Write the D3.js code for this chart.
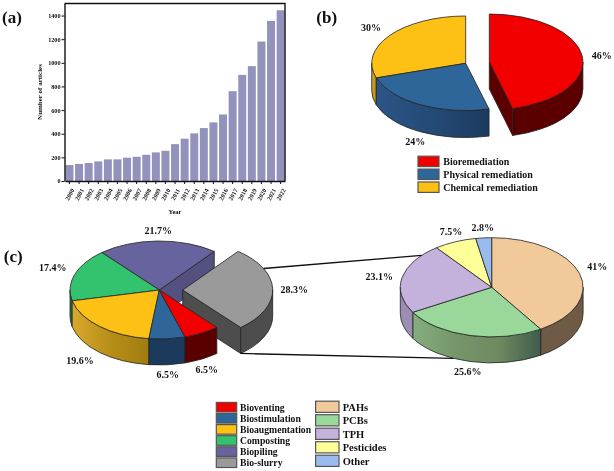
<!DOCTYPE html>
<html><head><meta charset="utf-8">
<script src="https://cdn.jsdelivr.net/npm/d3@7"></script>
<style>html,body{margin:0;padding:0;background:#fff}svg{display:block;filter:blur(0.35px)}text{font-family:"Liberation Serif",serif;font-weight:bold;fill:#111}</style>
</head><body><svg id="c" width="614" height="471"></svg>
<script>
const years=["2000","2001","2002","2003","2004","2005","2006","2007","2008","2009","2010","2011","2012","2013","2014","2015","2016","2017","2018","2019","2020","2021","2022"];
const articles=[135,144,152,166,183,183,197,205,222,242,256,312,358,403,448,496,563,760,898,972,1180,1355,1445];
const yTicks=[0,200,400,600,800,1000,1200,1400];

const remediationNames=["Bioremediation","Physical remediation","Chemical remediation"];
const remediationValues=[46,24,30];
const remediationLabels=["46%","24%","30%"];
const remediationTop=["#f20000","#2f6699","#fdc014"];

const bioNames=["Bio-slurry","Bioventing","Biostimulation","Bioaugmentation","Composting","Biopiling"];
const bioValues=[28.3,6.5,6.5,19.6,17.4,21.7];
const bioLabels=["28.3%","6.5%","6.5%","19.6%","17.4%","21.7%"];
const bioTop=["#9a9a9a","#f20000","#2f6699","#fdc014","#33c26e","#67639f"];
const bioLegendOrder=["Bioventing","Biostimulation","Bioaugmentation","Composting","Biopiling","Bio-slurry"];

const slurryNames=["PAHs","PCBs","TPH","Pesticides","Other"];
const slurryValues=[41,25.6,23.1,7.5,2.8];
const slurryLabels=["41%","25.6%","23.1%","7.5%","2.8%"];
const slurryTop=["#f2c99b","#99d89a","#c4b2dc","#ffff99","#99bbee"];

const svg=d3.select("#c");
const defs=svg.append("defs");
function grad(id,stops){
  const g=defs.append("linearGradient").attr("id",id);
  stops.forEach((c,i)=>g.append("stop").attr("offset",i/(stops.length-1)).attr("stop-color",c));
  return `url(#${id})`;
}
const remWall=[ "#5a0000", grad("w1",["#2b5586","#244a76","#1c3a5e"]), grad("w2",["#d0a020","#c09018"]) ];
const bioWall=[ "#4d4d4d", "#5a0000", "#1b3a5c", grad("w3",["#d9a92c","#b78e18","#a07c10"]), "#1f7a46", "#4f4c80" ];
const sluWall=[ "#6f5b45", grad("w4",["#86ad7e","#75966a","#6f8a60","#3f5c4c"]), "#9b8db3", "#b0b070", "#6a80a8" ];

/* Panel a */
const a=svg.append("g");
const frame={l:64.5,r:285,t:3.5,b:181};
const x=d3.scaleBand().domain(years).range([frame.l+.6,frame.r]).paddingInner(0.17).paddingOuter(0.04);
const y=d3.scaleLinear().domain([0,1502]).range([frame.b,frame.t]);
a.selectAll("rect.bar").data(articles).join("rect").attr("class","bar")
  .attr("x",(d,i)=>x(years[i])).attr("width",x.bandwidth())
  .attr("y",d=>y(d)).attr("height",d=>y(0)-y(d)).attr("fill","#9292bd");
const ax=a.append("g").attr("transform",`translate(0,${frame.b})`).call(d3.axisBottom(x).tickSize(3).tickSizeOuter(0));
ax.selectAll("text").attr("x",0).attr("y",0).attr("dy",".33em").attr("text-anchor","middle").attr("transform","translate(0.5,13.5) rotate(-62)").style("font-size","6.2px");
const ay=a.append("g").attr("transform",`translate(${frame.l},0)`).call(d3.axisLeft(y).tickValues(yTicks).tickSize(3).tickSizeOuter(0).tickFormat(d3.format("d")));
ay.selectAll("text").attr("x",-4).style("font-size","6.2px");
[ax,ay].forEach(s=>{s.selectAll("path,line").attr("stroke","#111").attr("stroke-width",1);s.select("path").attr("stroke-width",1.4)});
a.append("path").attr("d",`M${frame.l},${frame.t}H${frame.r}V${frame.b}`).attr("fill","none").attr("stroke","#111").attr("stroke-width",1.4);
a.append("text").attr("x",175).attr("y",214).attr("text-anchor","middle").style("font-size","6.5px").text("Year");
a.append("text").attr("transform","translate(42,92) rotate(-90)").attr("text-anchor","middle").style("font-size","7px").text("Number of articles");

/* 3D pies */
const pieGen=startDeg=>d3.pie().sort(null).startAngle(startDeg*Math.PI/180).endAngle((startDeg+360)*Math.PI/180);
const arc100=d3.arc().innerRadius(0).outerRadius(100);
const STROKE="#222";
const pt=(g,ang)=>[g.cx+g.rx*Math.sin(ang),g.cy-g.ry*Math.cos(ang)];
function wallPath(g,a0,a1){
  const p=pt(g,a0),q=pt(g,a1),large=(a1-a0)>Math.PI?1:0;
  return `M${p}A${g.rx},${g.ry} 0 ${large} 1 ${q}L${q[0]},${q[1]+g.depth}A${g.rx},${g.ry} 0 ${large} 0 ${p[0]},${p[1]+g.depth}Z`;
}
function visible(s){ // the part of a slice's rim facing the viewer
  const h=Math.PI/2, t=Math.PI*1.5, out=[];
  for(const k of [0,2*Math.PI]){
    const a0=Math.max(s.startAngle-k,h),a1=Math.min(s.endAngle-k,t);
    if(a1>a0) out.push([a0,a1]);
  }
  return out;
}
function face(g,ang,fill,parent){
  const p=pt(g,ang);
  parent.append("path").attr("d",`M${g.cx},${g.cy}L${p}L${p[0]},${p[1]+g.depth}L${g.cx},${g.cy+g.depth}Z`)
    .attr("fill",fill).attr("stroke",STROKE).attr("stroke-width",.8).attr("stroke-linejoin","round");
}
function slice(g,s,wall,parent){
  visible(s).forEach(v=>parent.append("path").attr("d",wallPath(g,v[0],v[1])).attr("fill",wall).attr("stroke",STROKE).attr("stroke-width",.8).attr("stroke-linejoin","round"));
}
function topSlice(g,s,top,parent){
  parent.append("path").attr("d",arc100(s)).attr("transform",`translate(${g.cx},${g.cy}) scale(${g.rx/100},${g.ry/100})`)
   .attr("fill",top).attr("stroke",STROKE).attr("stroke-width",.8).attr("stroke-linejoin","round").attr("vector-effect","non-scaling-stroke");
}
function label(t,cx,cy,size=10){svg.append("text").attr("x",cx).attr("y",cy+size*.33).attr("text-anchor","middle").style("font-size",size+"px").text(t)}

/* Panel b */
const bG=svg.append("g");
const bRest={cx:465.7,cy:63.3,rx:94,ry:47.3,depth:27};
const bEx={cx:489.3,cy:62,rx:93.6,ry:48,depth:27};
const bArcs=pieGen(0)(remediationValues);
slice(bRest,bArcs[2],remWall[2],bG);
slice(bRest,bArcs[1],remWall[1],bG);
topSlice(bRest,bArcs[2],remediationTop[2],bG);
topSlice(bRest,bArcs[1],remediationTop[1],bG);
face(bEx,bArcs[0].endAngle,"#5a0000",bG);
slice(bEx,bArcs[0],remWall[0],bG);
topSlice(bEx,bArcs[0],remediationTop[0],bG);
label(remediationLabels[0],601.7,55.7);label(remediationLabels[1],415.3,141.7);label(remediationLabels[2],371,27.3);

/* legend helper */
function legend(names,colors,sx,sw,sh,y0,step,tx,size,baseOff){
  const g=svg.append("g");
  names.forEach((n,i)=>{
    g.append("rect").attr("x",sx).attr("y",y0+i*step).attr("width",sw).attr("height",sh).attr("fill",colors[i]).attr("stroke","#555").attr("stroke-width",1.2);
    g.append("text").attr("x",tx).attr("y",y0+i*step+baseOff).style("font-size",size+"px").text(n);
  });
}
legend(remediationNames,remediationTop,418,21,10.4,156.2,12.9,443.3,10,8.6);

/* Panel c: left. The exploded slice sits behind the rest of the pie. */
const cG=svg.append("g");
const cRest={cx:159.3,cy:290,rx:89.3,ry:49,depth:26};
const cEx={cx:182.7,cy:290,rx:90,ry:49,depth:26};
const cArcs=pieGen(38)(bioValues);
face(cRest,cArcs[0].startAngle,"#54507f",cG);
face(cEx,cArcs[0].endAngle,"#4d4d4d",cG);
slice(cEx,cArcs[0],bioWall[0],cG);
topSlice(cEx,cArcs[0],bioTop[0],cG);
[5,4,3,2,1].forEach(i=>slice(cRest,cArcs[i],bioWall[i],cG));
[5,4,3,2,1].forEach(i=>topSlice(cRest,cArcs[i],bioTop[i],cG));
[[294.3,289.3],[206.7,369.3],[167.7,375],[80,361],[52.7,267.3],[158.3,230.7]].forEach((p,i)=>label(bioLabels[i],p[0],p[1]));

/* Panel c: right */
const dG=svg.append("g");
const dP={cx:491.7,cy:287.3,rx:91.4,ry:49.6,depth:26};
const dArcs=pieGen(0)(slurryValues);
dArcs.forEach((s,i)=>slice(dP,s,sluWall[i],dG));
dArcs.forEach((s,i)=>topSlice(dP,s,slurryTop[i],dG));
[[597.3,266.7],[467.7,371.7],[379.3,276.7],[451,231.7],[482.7,227.3]].forEach((p,i)=>label(slurryLabels[i],p[0],p[1]));

/* connectors from the exploded slice to the second pie */
const rad=d=>d*Math.PI/180;
const l0=pt(cEx,rad(64)),l1=pt(dP,rad(310));
const m0=pt(cEx,cArcs[0].endAngle),m1=pt(dP,rad(204.8));
const conn=svg.append("g").attr("stroke","#111").attr("stroke-width",1.3);
conn.append("line").attr("x1",l0[0]).attr("y1",l0[1]).attr("x2",l1[0]).attr("y2",l1[1]);
conn.append("line").attr("x1",m0[0]).attr("y1",m0[1]+cEx.depth).attr("x2",m1[0]).attr("y2",m1[1]+dP.depth);

/* legends */
const bioColorOf=n=>bioTop[bioNames.indexOf(n)];
legend(bioLegendOrder,bioLegendOrder.map(bioColorOf),216.3,20.4,9.6,402.4,11.1,240,9.7,8.2);
legend(slurryNames,slurryTop,315.6,23.4,11.2,401.2,13.5,342.7,10.5,9.6);

/* panel letters */
label("(a)",12,17,17);label("(b)",326.7,17,17);label("(c)",13.3,256,17);
</script></body></html>
